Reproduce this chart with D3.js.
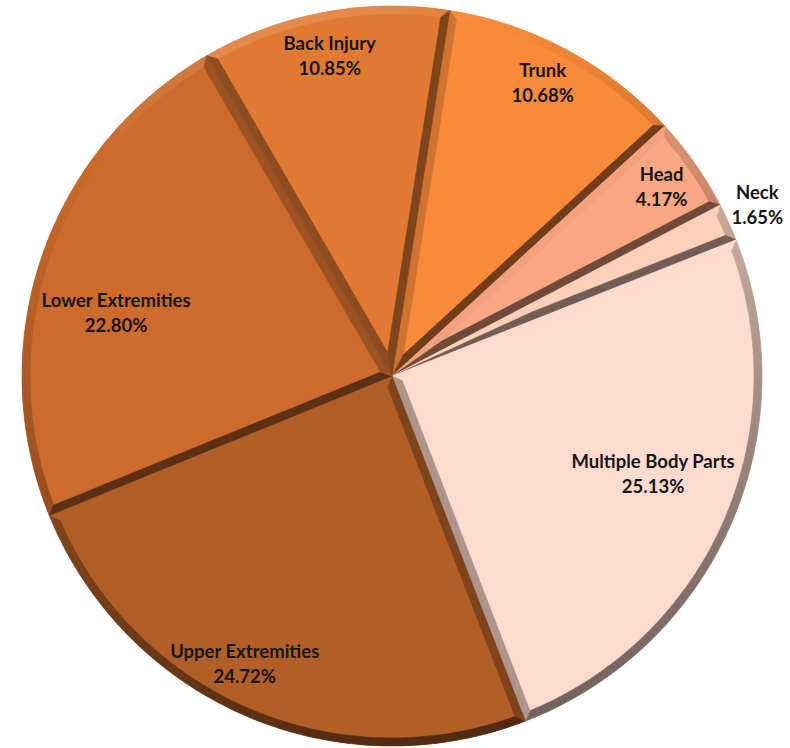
<!DOCTYPE html>
<html>
<head>
<meta charset="utf-8">
<script src="https://cdn.jsdelivr.net/npm/d3@7"></script>
<style>
  html, body { margin: 0; padding: 0; background: #fff; }
  svg { display: block; }
</style>
</head>
<body>
<div class="canvas"></div>
<script>
// data
const categories = ['Trunk', 'Head', 'Neck', 'Multiple Body Parts', 'Upper Extremities', 'Lower Extremities', 'Back Injury'];
const shares = [10.68, 4.17, 1.65, 25.13, 24.72, 22.80, 10.85];

// orange monochrome palette, same order as categories
const palette = ['#F98A3A', '#F9A682', '#FDD0BA', '#FEDBCE', '#B25E27', '#CC6B2C', '#E07A33'];

// label placement tweaks: [fraction of radius, angle nudge in degrees]
const labelNudge = {
  'Trunk': [0.89, -1],
  'Head': [0.89, 0],
  'Neck': [1.09, -0.5],
  'Multiple Body Parts': [0.754, -3],
  'Upper Extremities': [0.875, 3.7],
  'Lower Extremities': [0.765, -6],
  'Back Injury': [0.88, -0.5]
};

const dims = {width: 790, height: 748, radius: 370, bevel: 8};
const cent = {x: 392, y: 376};
const firstAngle = 9 * Math.PI / 180;

const data = categories.map((name, i) => ({name, value: shares[i], color: palette[i]}));

const svg = d3.select('.canvas')
  .append('svg')
  .attr('width', dims.width)
  .attr('height', dims.height);

const graph = svg.append('g')
  .attr('transform', `translate(${cent.x},${cent.y})`);

const pie = d3.pie()
  .sort(null)
  .value(d => d.value)
  .startAngle(firstAngle)
  .endAngle(firstAngle + 2 * Math.PI);

const arcPath = d3.arc()
  .innerRadius(0)
  .outerRadius(dims.radius);

const rimArc = d3.arc()
  .innerRadius(dims.radius - dims.bevel)
  .outerRadius(dims.radius);

// light comes mostly from above, a bit from the left
const light = (() => { const l = Math.hypot(-0.3, -0.95); return [-0.3 / l, -0.95 / l]; })();

const shade = (base, n, bias) => {
  let k = bias + 0.3 * (n[0] * light[0] + n[1] * light[1]);
  if (k >= 0) return d3.interpolateRgb(base, '#ffffff')(Math.min(k * 2.5, 0.6));
  return d3.interpolateRgb(base, '#000000')(Math.min(-k, 0.55));
};

const slices = pie(data);

// flat top of each slice
graph.selectAll('path.slice')
  .data(slices)
  .enter().append('path')
  .attr('class', 'slice')
  .attr('d', arcPath)
  .attr('fill', d => d.data.color);

// outer rim bevel, cut in small pieces so the shade follows the curve
const step = Math.PI / 180;
slices.forEach(s => {
  const pieces = [];
  for (let a = s.startAngle; a < s.endAngle - 1e-6; a += step) {
    pieces.push({startAngle: a, endAngle: Math.min(a + step, s.endAngle)});
  }
  graph.append('g').selectAll('path')
    .data(pieces)
    .enter().append('path')
    .attr('d', rimArc)
    .each(function(p) {
      const m = (p.startAngle + p.endAngle) / 2;
      const c = shade(s.data.color, [Math.sin(m), -Math.cos(m)], -0.25);
      d3.select(this).attr('fill', c).attr('stroke', c).attr('stroke-width', 0.6);
    });
});

// straight edge bevels (mitred at the rim and at the bisector)
const R = dims.radius, w = dims.bevel;
slices.forEach(s => {
  const half = (s.endAngle - s.startAngle) / 2;
  const mid = s.startAngle + half;
  const dB = w / Math.sin(half);
  const ub = [Math.sin(mid), -Math.cos(mid)];
  [[s.startAngle, 1], [s.endAngle, -1]].forEach(([a, sign]) => {
    const u = [Math.sin(a), -Math.cos(a)];
    const inward = [sign * Math.cos(a), sign * Math.sin(a)];
    const outward = [-inward[0], -inward[1]];
    const t = Math.sqrt((R - w) * (R - w) - w * w);
    const pts = [
      [0, 0],
      [u[0] * R, u[1] * R],
      [u[0] * t + inward[0] * w, u[1] * t + inward[1] * w],
      [ub[0] * dB, ub[1] * dB]
    ];
    const c = shade(s.data.color, outward, -0.3);
    graph.append('path')
      .attr('d', d3.line()(pts) + 'Z')
      .attr('fill', c)
      .attr('stroke', c)
      .attr('stroke-width', 0.5);
  });
});

// data labels
const fmt = d3.format('.2f');
const labels = graph.selectAll('text.label')
  .data(slices)
  .enter().append('text')
  .attr('class', 'label')
  .attr('text-anchor', 'middle')
  .attr('font-family', 'Lato, "Open Sans", sans-serif')
  .attr('font-weight', 'bold')
  .attr('font-size', 18.5)
  .attr('fill', '#161616')
  .attr('transform', d => {
    const [f, nudge] = labelNudge[d.data.name];
    const a = (d.startAngle + d.endAngle) / 2 + nudge * Math.PI / 180;
    return `translate(${Math.sin(a) * R * f},${-Math.cos(a) * R * f})`;
  });

labels.append('tspan')
  .attr('x', 0)
  .attr('y', -6)
  .text(d => d.data.name);

labels.append('tspan')
  .attr('x', 0)
  .attr('y', 19)
  .text(d => fmt(d.data.value) + '%');
</script>
</body>
</html>
